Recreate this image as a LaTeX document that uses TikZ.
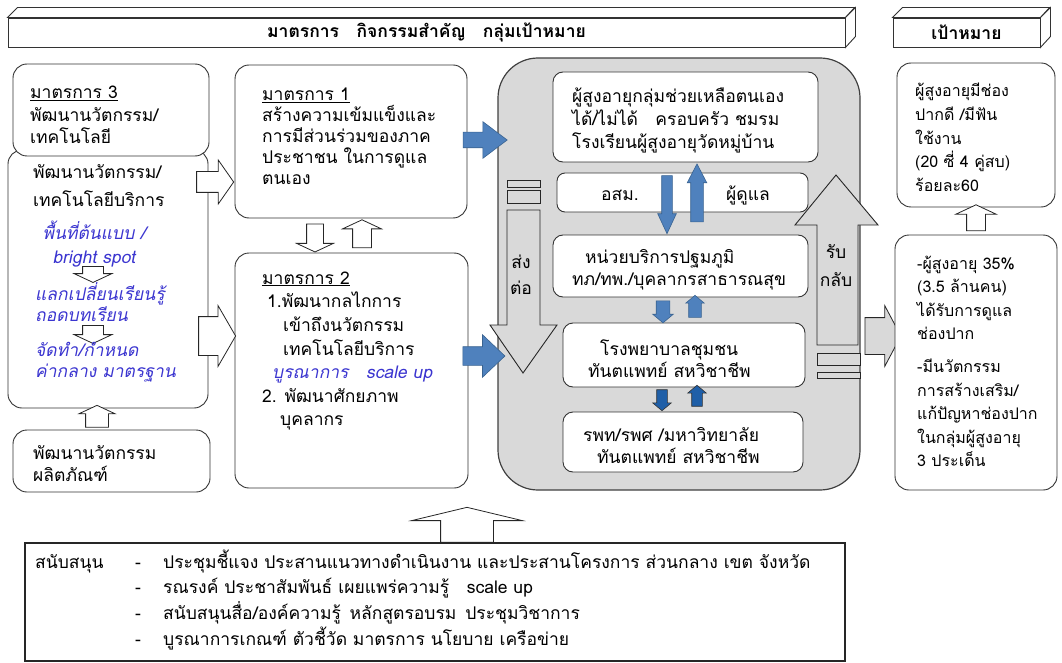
\documentclass[tikz,border=0pt]{standalone}
\usepackage{fontspec}
\setmainfont{Loma}[Script=Thai]
\newfontfamily\thaiit{Loma}[Script=Thai,FakeSlant=0.2]
\usetikzlibrary{shapes.arrows,positioning,calc}
\definecolor{boxgrey}{HTML}{D9D9D9}
\definecolor{arrowblue}{HTML}{4F81BD}
\definecolor{arrowedge}{HTML}{3A6390}
\definecolor{darkblue}{HTML}{1F5FA8}
\definecolor{noteblue}{HTML}{3B35D0}

\begin{document}
\begin{tikzpicture}[
  x=1pt,
  y=-1pt,
  every node/.style={font={\fontsize{17.5}{22}\selectfont}, inner sep=0pt},
  rbox/.style={draw=black!80, rounded corners=14pt, fill=white, line width=0.9pt},
  ibox/.style={draw=black!80, rounded corners=10pt, fill=white, line width=0.9pt},
  face/.style={draw=black!80, fill=white, line width=0.9pt},
  txt/.style={anchor=west, align=left},
  note/.style={text=noteblue, font={\thaiit\fontsize{17.5}{21}\selectfont}},
  warrow/.style={single arrow, draw=black!85, fill=white, line width=0.8pt, single arrow head indent=0pt},
  barrow/.style={single arrow, draw=arrowedge, fill=arrowblue, line width=0.6pt},
  darrow/.style={single arrow, draw=black!80, fill=darkblue, line width=0.6pt},
  garrow/.style={draw=black!85, fill=boxgrey, line width=0.9pt},
  hsh/.style={inner xsep=0pt, inner ysep=#1},
  vsh/.style={inner ysep=0pt, inner xsep=#1}
]
\useasboundingbox (0,0) rectangle (1062,663);

\node[face, minimum width=837pt, minimum height=29pt, font={\bfseries\fontsize{17.5}{22}\selectfont}] (hd) at (426.5,32.5) {มาตรการ\quad กิจกรรมสำคัญ\quad กลุ่มเป้าหมาย};
\draw[face] (hd.north west) -- ++(10,-10) -- ++(837,0) -- (hd.north east) -- cycle;
\draw[face] (hd.north east) -- ++(10,-10) -- ++(0,29) -- (hd.south east) -- cycle;
\node[face, minimum width=147pt, minimum height=29pt, font={\bfseries\fontsize{17.5}{22}\selectfont}] (gl) at (966.5,32.5) {เป้าหมาย};
\draw[face] (gl.north west) -- ++(10,-10) -- ++(147,0) -- (gl.north east) -- cycle;
\draw[face] (gl.north east) -- ++(10,-10) -- ++(0,29) -- (gl.south east) -- cycle;

\node[rbox, minimum width=200pt, minimum height=258pt] (lb) at (108,279) {};
\node[rbox, minimum width=196pt, minimum height=92pt] (m3) at (111,110) {};
\node[txt, font={\fontsize{17.5}{22.5}\selectfont}] (m3t) at (30,115) {\underline{มาตรการ 3}\\พัฒนานวัตกรรม/\\เทคโนโลยี};
\node[txt, font={\fontsize{17.5}{28}\selectfont}] (lbt) at (33,186) {พัฒนานวัตกรรม/\\เทคโนโลยีบริการ};
\node[note, align=center, font={\thaiit\fontsize{17.5}{24.5}\selectfont}] (n1) at (94,244) {พื้นที่ต้นแบบ /\\bright spot};
\node[warrow, vsh=10pt, shape border rotate=270, minimum height=16pt, single arrow head extend=8.5pt, single arrow tip angle=130] (d1) at (93,272) {};
\node[note, txt] (n2) at (35,302) {แลกเปลี่ยนเรียนรู้\\ถอดบทเรียน};
\node[warrow, vsh=10pt, shape border rotate=270, minimum height=18pt, single arrow head extend=8.5pt, single arrow tip angle=130] (d2) at (93,332) {};
\node[note, txt] (n3) at (35,362) {จัดทำ/กำหนด\\ค่ากลาง มาตรฐาน};
\node[rbox, minimum width=197pt, minimum height=62pt] (pd) at (111.5,461) {};
\node[txt] (pdt) at (33,464) {พัฒนานวัตกรรม\\ผลิตภัณฑ์};
\node[warrow, vsh=11pt, shape border rotate=90, minimum height=22pt, single arrow head extend=6.5pt, single arrow tip angle=130] (u1) at (97,419) {};

\node[rbox, minimum width=232pt, minimum height=153pt] (m1) at (351,141.5) {};
\node[txt, font={\fontsize{17.5}{21}\selectfont}] (m1t) at (262,136) {\underline{มาตรการ 1}\\สร้างความเข้มแข็งและ\\การมีส่วนร่วมของภาค\\ประชาชน ในการดูแล\\ตนเอง};
\node[rbox, minimum width=233pt, minimum height=235pt] (m2) at (351.5,370.5) {};
\node[txt, font={\fontsize{17.5}{23.6}\selectfont}] (m2t) at (262,351) {\underline{มาตรการ 2}\\\hspace*{5pt}1.พัฒนากลไกการ\\\hspace*{21pt}เข้าถึงนวัตกรรม\\\hspace*{21pt}เทคโนโลยีบริการ\\\hspace*{10pt}{\color{noteblue}\thaiit บูรณาการ\quad scale up}\\2. พัฒนาศักยภาพ\\\hspace*{18pt}บุคลากร};
\node[warrow, vsh=8pt, shape border rotate=270, minimum height=28pt, single arrow head extend=10pt, single arrow tip angle=130] (d3) at (315,236) {};
\node[warrow, vsh=9pt, shape border rotate=90, minimum height=28pt, single arrow head extend=10pt, single arrow tip angle=130] (u3) at (362,236) {};
\node[warrow, hsh=10pt, minimum height=37pt, single arrow head extend=11.5pt, single arrow tip angle=110] (r1) at (211.5,182) {};
\node[warrow, hsh=19pt, minimum height=37pt, single arrow head extend=11pt, single arrow tip angle=120] (r2) at (211.5,336) {};

\node[draw=black!75, fill=boxgrey, rounded corners=40pt, line width=1.2pt, minimum width=362pt, minimum height=432pt] (gb) at (679,274) {};
\node[barrow, hsh=7.5pt, minimum height=44pt, single arrow head extend=10.5pt, single arrow tip angle=74] (b1a) at (480,140) {};
\node[barrow, hsh=9pt, minimum height=42pt, single arrow head extend=12pt, single arrow tip angle=87] (b2a) at (479,356) {};

\draw[garrow] (507,210) -- (540,210) -- (540,325) -- (557,325) -- (523,373) -- (490,325) -- (507,325) -- cycle;
\draw[garrow] (507,180) rectangle (540,187);
\draw[garrow] (507,190) rectangle (540,203);
\node (st) at (521,262) {ส่ง};
\node (sd) at (521,288) {ต่อ};
\draw[garrow] (817,345) -- (817,225) -- (795,225) -- (836,175) -- (878,225) -- (858,225) -- (858,345) -- cycle;
\draw[garrow] (817,353) rectangle (860,365);
\draw[garrow] (817,372) rectangle (860,378);
\node (rb) at (836,252) {รับ};
\node (rk) at (836,280) {กลับ};

\node[ibox, minimum width=265pt, minimum height=90pt] (e1) at (685.5,117) {};
\node[txt, font={\fontsize{17.5}{23}\selectfont}] (e1t) at (572,120) {ผู้สูงอายุกลุ่มช่วยเหลือตนเอง\\ได้/ไม่ได้\quad ครอบครัว ชมรม\\โรงเรียนผู้สูงอายุวัดหมู่บ้าน};
\node[ibox, rounded corners=8pt, minimum width=251pt, minimum height=39pt] (e2) at (682.5,192.5) {};
\node (e2a) at (620,195) {อสม.};
\node (e2b) at (748,195) {ผู้ดูแล};
\node[ibox, minimum width=255pt, minimum height=62pt] (e3) at (680.5,266) {};
\node[txt] (e3t) at (572,269.5) {\hspace*{13pt}หน่วยบริการปฐมภูมิ\\ทภ/ทพ./บุคลากรสาธารณสุข};
\node[ibox, minimum width=242pt, minimum height=64pt] (e4) at (684,355) {};
\node[txt] (e4t) at (588,358.5) {\hspace*{12pt}โรงพยาบาลชุมชน\\ทันตแพทย์ สหวิชาชีพ};
\node[ibox, minimum width=240pt, minimum height=60pt] (e5) at (683,442) {};
\node[txt] (e5t) at (583,445.5) {รพท/รพศ /มหาวิทยาลัย\\\hspace*{14pt}ทันตแพทย์ สหวิชาชีพ};

\node[barrow, vsh=5pt, shape border rotate=270, minimum height=58pt, single arrow head extend=4pt, single arrow tip angle=50] (v1) at (667,199) {};
\node[barrow, vsh=6pt, shape border rotate=90, minimum height=58pt, single arrow head extend=3.5pt, single arrow tip angle=55] (v2) at (697,199) {};
\node[barrow, vsh=6.5pt, shape border rotate=270, minimum height=22pt, single arrow head extend=3.5pt, single arrow tip angle=100] (v3) at (663,309) {};
\node[barrow, vsh=6pt, shape border rotate=90, minimum height=22pt, single arrow head extend=3pt, single arrow tip angle=100] (v4) at (695,309) {};
\node[darrow, vsh=5pt, shape border rotate=270, minimum height=21pt, single arrow head extend=4pt, single arrow tip angle=100] (v5) at (662,398) {};
\node[darrow, vsh=5pt, shape border rotate=90, minimum height=21pt, single arrow head extend=4pt, single arrow tip angle=100] (v6) at (697,398) {};

\node[warrow, fill=boxgrey, hsh=18pt, minimum height=36pt, single arrow head extend=12pt, single arrow tip angle=124] (r3) at (878,336) {};

\node[rbox, minimum width=158pt, minimum height=144pt] (t1) at (976,135) {};
\node[txt, font={\fontsize{16}{23.7}\selectfont}] (t1t) at (915,137.5) {ผู้สูงอายุมีช่อง\\ปากดี /มีฟัน\\ใช้งาน\\(20 ซี่ 4 คู่สบ)\\ร้อยละ60};
\node[warrow, vsh=9pt, shape border rotate=90, minimum height=26pt, single arrow head extend=11pt, single arrow tip angle=130] (u4) at (976,220) {};
\node[rbox, minimum width=162pt, minimum height=255pt] (t2) at (976,362.5) {};
\node[txt, font={\fontsize{16}{23.5}\selectfont}] (t2t) at (917,361.5) {-ผู้สูงอายุ 35\%\\(3.5 ล้านคน)\\ได้รับการดูแล\\ช่องปาก\\[9.5pt]-มีนวัตกรรม\\การสร้างเสริม/\\แก้ปัญหาช่องปาก\\ในกลุ่มผู้สูงอายุ\\3 ประเด็น};

\node[warrow, vsh=26pt, shape border rotate=90, minimum height=35pt, single arrow head extend=29pt, single arrow tip angle=153] (u5) at (467,528) {};
\node[draw=black!85, fill=white, line width=1.4pt, minimum width=820pt, minimum height=118pt] (sp) at (435,602) {};
\node[anchor=north west, font={\fontsize{17.5}{25}\selectfont}] (spt) at (35,550) {\begin{tabular}{@{}p{100pt}@{}p{28pt}@{}l@{}}
สนับสนุน & - & ประชุมชี้แจง ประสานแนวทางดำเนินงาน และประสานโครงการ ส่วนกลาง เขต จังหวัด\\
 & - & รณรงค์ ประชาสัมพันธ์ เผยแพร่ความรู้\quad scale up\\
 & - & สนับสนุนสื่อ/องค์ความรู้\enspace หลักสูตรอบรม\enspace ประชุมวิชาการ\\
 & - & บูรณาการเกณฑ์ ตัวชี้วัด มาตรการ นโยบาย เครือข่าย
\end{tabular}};
\end{tikzpicture}
\end{document}
